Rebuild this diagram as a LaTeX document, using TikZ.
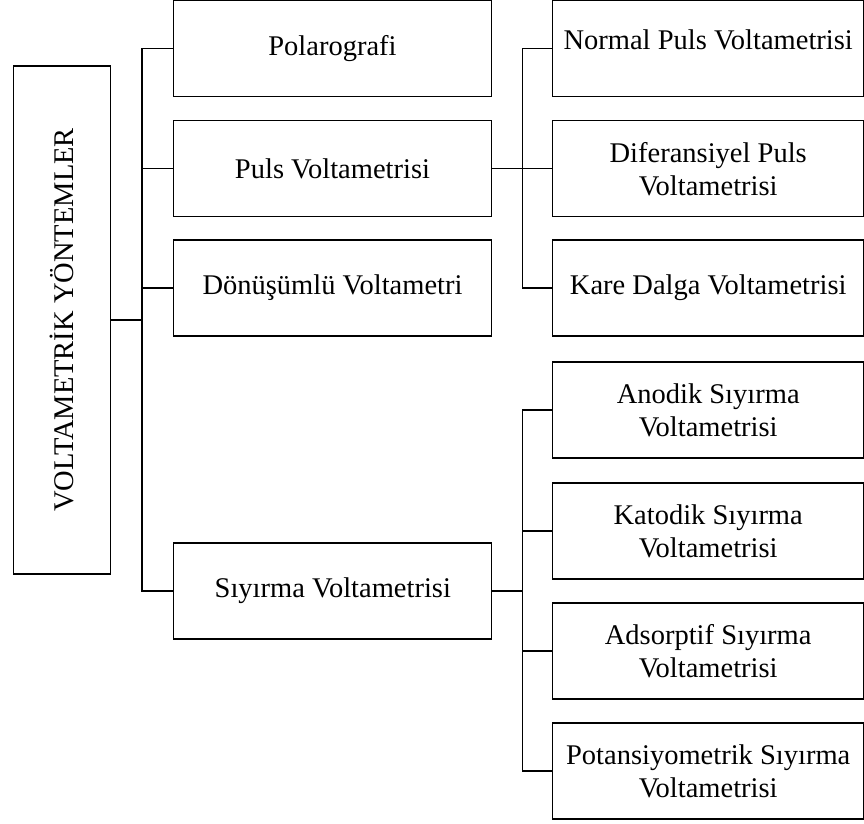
\documentclass[tikz,border=0pt]{standalone}
\usepackage{fontspec}
\setmainfont{Liberation Serif}
\begin{document}
\begin{tikzpicture}[x=1pt,y=-1pt,
  box/.style={draw=black,line width=1.1pt,inner sep=0pt,align=center,
    font=\fontsize{28.5}{33}\selectfont},
  midbox/.style={box,minimum width=318pt,minimum height=96pt},
  rbox/.style={box,minimum width=311pt,minimum height=96pt},
  link/.style={draw=black,line width=1.1pt}]
\useasboundingbox (0,0) rectangle (864,823);
% main
\node[box,minimum width=97pt,minimum height=508pt] (main) at (62,320) {};
\node[rotate=90,font=\fontsize{28.5}{33}\selectfont] (maintxt) at (main.center) {VOLTAMETRİK YÖNTEMLER};
% second level
\node[midbox] (pol) at (332.5,48.5) {Polarografi};
\node[midbox] (puls) at (332.5,168.7) {Puls Voltametrisi};
\node[midbox] (don) at (332.5,288) {Dönüşümlü Voltametri};
\node[midbox] (siy) at (332.8,591) {Sıyırma Voltametrisi};
% third level
\node[rbox] (norm) at (708.2,48.8) {};
\node[font=\fontsize{28.5}{33}\selectfont] (normtxt) at (708.2,40) {Normal Puls Voltametrisi};
\node[rbox] (dif) at (708.2,168.7) {Diferansiyel Puls\\Voltametrisi};
\node[rbox] (kare) at (708.2,288) {Kare Dalga Voltametrisi};
\node[rbox] (ano) at (708.2,410) {Anodik Sıyırma\\Voltametrisi};
\node[rbox] (kat) at (708.2,531) {Katodik Sıyırma\\Voltametrisi};
\node[rbox] (ads) at (708.2,651) {Adsorptif Sıyırma\\Voltametrisi};
\node[rbox] (pot) at (708.2,771) {Potansiyometrik Sıyırma\\Voltametrisi};
% bus coordinates
\coordinate (b1) at (142,0);
\coordinate (b2) at (522.7,0);
% connectors level 1
\draw[link] (main.east) -- (main.east -| b1);
\draw[link] (pol.west) -- (pol.west -| b1) -- (siy.west -| b1) -- (siy.west);
\draw[link] (puls.west) -- (puls.west -| b1);
\draw[link] (don.west) -- (don.west -| b1);
% connectors puls
\draw[link] (puls.east) -- (puls.east -| b2);
\draw[link] (norm.west) -- (norm.west -| b2) -- (kare.west -| b2) -- (kare.west);
\draw[link] (dif.west) -- (dif.west -| b2);
% connectors siyirma
\draw[link] (siy.east) -- (siy.east -| b2);
\draw[link] (ano.west) -- (ano.west -| b2) -- (pot.west -| b2) -- (pot.west);
\draw[link] (kat.west) -- (kat.west -| b2);
\draw[link] (ads.west) -- (ads.west -| b2);
\end{tikzpicture}
\end{document}
